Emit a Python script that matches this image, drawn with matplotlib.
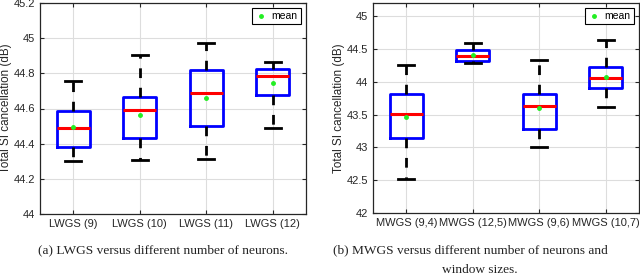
import matplotlib
matplotlib.use("Agg")
import matplotlib.pyplot as plt
from matplotlib.lines import Line2D

plt.rcParams['font.family'] = ['Liberation Sans', 'DejaVu Sans']

# === DATA ===
lw_labels = ["LWGS (9)", "LWGS (10)", "LWGS (11)", "LWGS (12)"]
lw_whislo = [44.30, 44.305, 44.31, 44.49]
lw_q1 = [44.38, 44.43, 44.50, 44.675]
lw_med = [44.488, 44.59, 44.69, 44.787]
lw_q3 = [44.588, 44.666, 44.82, 44.825]
lw_whishi = [44.757, 44.907, 44.975, 44.867]
lw_mean = [44.495, 44.564, 44.662, 44.744]

mw_labels = ["MWGS (9,4)", "MWGS (12,5)", "MWGS (9,6)", "MWGS (10,7)"]
mw_whislo = [42.515, 44.28, 43.01, 43.615]
mw_q1 = [43.145, 44.315, 43.286, 43.90]
mw_med = [43.513, 44.39, 43.624, 44.058]
mw_q3 = [43.815, 44.48, 43.81, 44.23]
mw_whishi = [44.254, 44.592, 44.33, 44.643]
mw_mean = [43.47, 44.41, 43.60, 44.07]

lw_yticks = [44, 44.2, 44.4, 44.6, 44.8, 45, 45.2]
mw_yticks = [42, 42.5, 43, 43.5, 44, 44.5, 45]


def make_stats(labels, lo, q1, med, q3, hi, mean):
    return [dict(label=l, whislo=a, q1=b, med=c, q3=d, whishi=e, mean=m, fliers=[])
            for l, a, b, c, d, e, m in zip(labels, lo, q1, med, q3, hi, mean)]


def draw_panel(ax, stats, yticks, ylim):
    ax.bxp(stats, widths=0.5, showmeans=True, showfliers=False,
           boxprops=dict(color='#0000ff', linewidth=2.0),
           medianprops=dict(color='#ff0000', linewidth=2.2),
           whiskerprops=dict(color='black', linewidth=2.0, linestyle=(0, (3.5, 3.5))),
           capprops=dict(color='black', linewidth=2.0),
           meanprops=dict(marker='o', markerfacecolor='#22ee22', markeredgecolor='#22ee22',
                          markersize=2.5),
           capwidths=0.24)
    ax.set_ylim(*ylim)
    ax.set_yticks(yticks)
    ax.set_yticklabels([f"{t:g}" for t in yticks])
    ax.set_xlim(0.5, 4.5)
    ax.grid(True, color='#dddddd', linewidth=0.8)
    ax.set_axisbelow(True)
    ax.tick_params(labelsize=8, length=3, direction='in', top=True, right=True,
                   width=0.8, colors='#262626')
    for s in ax.spines.values():
        s.set_linewidth(0.9)
        s.set_color('#262626')
    ax.set_ylabel("Total SI cancellation (dB)", fontsize=8.4, labelpad=1, color='#262626')
    h = Line2D([], [], marker='o', linestyle='none', markerfacecolor='#22ee22',
               markeredgecolor='#22ee22', markersize=2.5)
    leg = ax.legend([h], ["mean"], loc='upper right', fontsize=7.5, fancybox=False,
                    edgecolor='black', framealpha=1, handlelength=1.2,
                    borderpad=0.3, handletextpad=0.4, borderaxespad=0.5)
    leg.get_frame().set_linewidth(0.8)


fig = plt.figure(figsize=(6.4, 2.8), dpi=100)
ax1 = fig.add_axes([40 / 640, 1 - 214 / 280, 266 / 640, 211 / 280])
ax2 = fig.add_axes([373 / 640, 1 - 213 / 280, 266 / 640, 210 / 280])

draw_panel(ax1, make_stats(lw_labels, lw_whislo, lw_q1, lw_med, lw_q3, lw_whishi, lw_mean),
           lw_yticks, (44, 45.2))
draw_panel(ax2, make_stats(mw_labels, mw_whislo, mw_q1, mw_med, mw_q3, mw_whishi, mw_mean),
           mw_yticks, (42, 45.2))

cap = dict(fontsize=9.6, family=['Liberation Serif', 'DejaVu Serif'], color='#222222')
fig.text(163 / 640, 1 - 250 / 280, "(a) LWGS versus different number of neurons.",
         ha='center', va='center', **cap)
fig.text(333 / 640, 1 - 250 / 280, "(b) MWGS versus different number of neurons and",
         ha='left', va='center', **cap)
fig.text(480 / 640, 1 - 270 / 280, "window sizes.", ha='center', va='center', **cap)

fig.savefig("out.png", dpi=100)
